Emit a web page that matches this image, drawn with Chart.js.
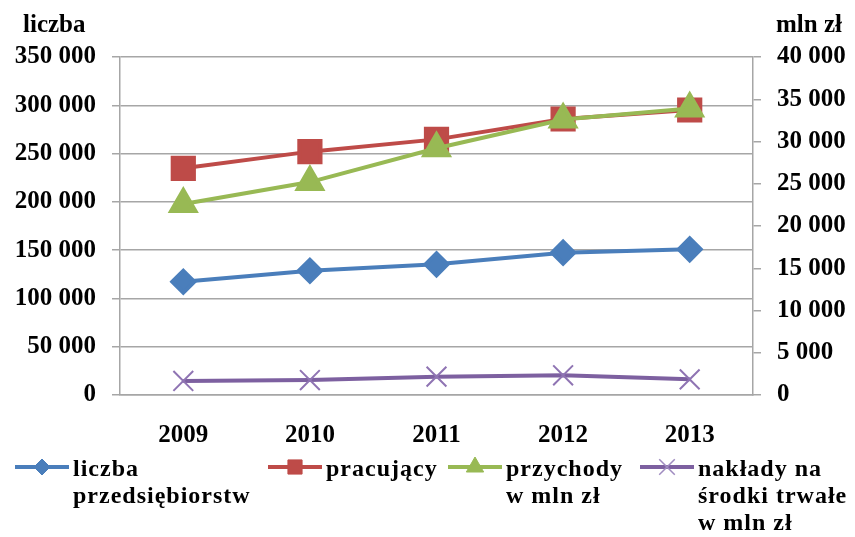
<!DOCTYPE html>
<html>
<head>
<meta charset="utf-8">
<script src="https://cdn.jsdelivr.net/npm/chart.js@4"></script>
<style>
    html, body { margin: 0; padding: 0; background: #fff; }
    #wrap { width: 855px; height: 537px; }
</style>
</head>
<body>
<div id="wrap"><canvas id="chart-main" width="855" height="537"></canvas></div>
<script>
const years = ['2009', '2010', '2011', '2012', '2013'];

// lewa oś (liczba)
const firmy = [117300, 128700, 135300, 147400, 150800];
const pracujacy = [234700, 252000, 264700, 285800, 295100];
// prawa oś (mln zł)
const przychody = [22600, 25200, 29200, 32600, 33900];
const naklady = [1660, 1770, 2170, 2330, 1850];

const legendLabels = [
    ['liczba', 'przedsiębiorstw'],
    ['pracujący'],
    ['przychody', 'w mln zł'],
    ['nakłady na', 'środki trwałe', 'w mln zł'],
];

const FONT = '"Liberation Serif", "Times New Roman", serif';
const GRID = '#a6a6a6';

const fmt = (v) => String(v).replace(/\B(?=(\d{3})+(?!\d))/g, ' ');

const legendPlugin = {
    id: 'bottomLegend',
    afterDraw(chart) {
        const ctx = chart.ctx;
        const items = [
            { x: 15, color: '#4a7ebb', style: 'rectRot', r: 8 },
            { x: 268, color: '#be4b48', style: 'rect', r: 10 },
            { x: 448, color: '#98b954', style: 'triangle', r: 10 },
            { x: 640, color: '#7d60a0', style: 'crossRot', r: 11 },
        ];
        const y = 467;
        ctx.save();
        items.forEach((it, i) => {
            ctx.strokeStyle = it.color;
            ctx.lineWidth = 4;
            ctx.lineCap = 'butt';
            ctx.beginPath();
            ctx.moveTo(it.x, y);
            ctx.lineTo(it.x + 54, y);
            ctx.stroke();
            ctx.fillStyle = it.color;
            ctx.strokeStyle = it.style === 'crossRot' ? '#a08cc0' : it.color;
            ctx.lineWidth = it.style === 'crossRot' ? 1.5 : 1;
            Chart.helpers.drawPoint(ctx, {
                pointStyle: it.style,
                radius: it.r,
                borderWidth: ctx.lineWidth,
                rotation: 0
            }, it.x + 27, y);
            ctx.fillStyle = '#000';
            ctx.font = 'bold 24px ' + FONT;
            ctx.letterSpacing = '1px';
            ctx.textBaseline = 'alphabetic';
            ctx.textAlign = 'left';
            legendLabels[i].forEach((line, j) => {
                ctx.fillText(line, it.x + 58, 476 + j * 27);
            });
        });
        ctx.letterSpacing = '0px';
        ctx.font = 'bold 25px ' + FONT;
        ctx.fillText('liczba', 23, 32);
        ctx.fillText('mln zł', 776, 32);
        ctx.restore();
    }
};

const data = {
    labels: years,
    datasets: [
        {
            label: 'liczba przedsiębiorstw',
            data: firmy,
            yAxisID: 'y',
            borderColor: '#4a7ebb',
            backgroundColor: '#4a7ebb',
            borderWidth: 4,
            pointStyle: 'rectRot',
            pointRadius: 11,
            order: 4
        },
        {
            label: 'pracujący',
            data: pracujacy,
            yAxisID: 'y',
            borderColor: '#be4b48',
            backgroundColor: '#be4b48',
            borderWidth: 4,
            pointStyle: 'rect',
            pointRadius: 15,
            order: 3
        },
        {
            label: 'przychody w mln zł',
            data: przychody,
            yAxisID: 'y1',
            borderColor: '#98b954',
            backgroundColor: '#98b954',
            borderWidth: 4,
            pointStyle: 'triangle',
            pointRadius: 14,
            order: 2
        },
        {
            label: 'nakłady na środki trwałe w mln zł',
            data: naklady,
            yAxisID: 'y1',
            borderColor: '#7d60a0',
            backgroundColor: '#7d60a0',
            pointBorderColor: '#8f74b3',
            borderWidth: 4,
            pointBorderWidth: 2,
            pointStyle: 'crossRot',
            pointRadius: 14,
            order: 1
        }
    ]
};

const tickFont = { family: FONT, size: 25, weight: 'bold' };

const options = {
    responsive: false,
    animation: false,
    layout: { padding: { top: 57, left: 0, right: 0, bottom: 0 } },
    plugins: {
        legend: { display: false },
        tooltip: { enabled: false }
    },
    elements: { line: { tension: 0 } },
    scales: {
        x: {
            offset: true,
            grid: { display: false },
            border: { display: true, color: GRID, width: 1.5 },
            ticks: { color: '#000', font: tickFont, padding: 18, maxRotation: 0 },
            afterFit: (s) => { s.height = 142; }
        },
        y: {
            position: 'left',
            min: 0,
            max: 350000,
            ticks: { stepSize: 50000, color: '#000', font: tickFont, padding: 16, callback: fmt },
            grid: { color: GRID, lineWidth: 1.5, tickLength: 8 },
            border: { display: true, color: GRID, width: 1.5 },
            afterFit: (s) => { s.width = 120; }
        },
        y1: {
            position: 'right',
            min: 0,
            max: 40000,
            ticks: { stepSize: 5000, color: '#000', font: tickFont, padding: 16, callback: fmt },
            grid: { drawOnChartArea: false, color: GRID, lineWidth: 1.5, tickLength: 8 },
            border: { display: true, color: GRID, width: 1.5 },
            afterFit: (s) => { s.width = 102; }
        }
    }
};

const chart_main = new Chart(
    document.getElementById('chart-main'),
    { type: 'line', data: data, options: options, plugins: [legendPlugin] }
);
</script>
</body>
</html>
